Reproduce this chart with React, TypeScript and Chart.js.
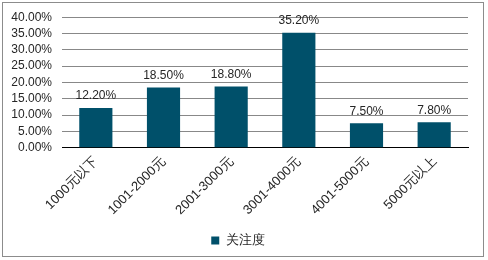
import React, { useEffect, useRef } from "react";
import { Chart, registerables } from "chart.js";

Chart.register(...registerables);

const categories = ["1000元以下", "1001-2000元", "2001-3000元", "3001-4000元", "4001-5000元", "5000元以上"];
const seriesName = "关注度";
const values = [12.2, 18.5, 18.8, 35.2, 7.5, 7.8];
const yMin = 0;
const yMax = 40;
const yStep = 5;

const FONT = "'Liberation Sans', Arial, sans-serif";

const borderPlugin = {
  id: "outerBorder",
  beforeDraw(chart: any) {
    const ctx = chart.ctx;
    ctx.save();
    ctx.fillStyle = "#ffffff";
    ctx.fillRect(0, 0, chart.width, chart.height);
    ctx.strokeStyle = "#8c8c8c";
    ctx.lineWidth = 1;
    ctx.strokeRect(2.5, 2.5, 481, 254);
    ctx.restore();
  },
};

const labelPlugin = {
  id: "barLabels",
  afterDatasetsDraw(chart: any) {
    const ctx = chart.ctx;
    const meta = chart.getDatasetMeta(0);
    ctx.save();
    ctx.font = `12px ${FONT}`;
    ctx.fillStyle = "#262626";
    ctx.textAlign = "center";
    ctx.textBaseline = "bottom";
    meta.data.forEach((bar: any, i: number) => {
      ctx.fillText(values[i].toFixed(2) + "%", bar.x, bar.y - 6);
    });
    ctx.restore();
  },
};

export default function App() {
  const ref = useRef<HTMLCanvasElement>(null);
  useEffect(() => {
    document.body.style.margin = "0";
    const chart = new Chart(ref.current!, {
      type: "bar",
      data: {
        labels: categories,
        datasets: [
          {
            label: seriesName,
            data: values,
            backgroundColor: "#00506a",
            categoryPercentage: 1,
            barPercentage: 0.49,
          },
        ],
      },
      options: {
        animation: false,
        responsive: false,
        layout: { padding: { left: 8, right: 20, top: 10, bottom: 3 } },
        plugins: {
          legend: {
            position: "bottom",
            labels: {
              boxWidth: 8,
              boxHeight: 8,
              font: { family: FONT, size: 13 },
              color: "#262626",
              padding: 10,
            },
          },
          tooltip: { enabled: false },
        },
        scales: {
          x: {
            grid: { display: false, drawTicks: false },
            border: { color: "#000000", width: 1 },
            ticks: {
              minRotation: 45,
              maxRotation: 45,
              autoSkip: false,
              color: "#262626",
              font: { family: FONT, size: 13 },
              padding: 6,
            },
          },
          y: {
            min: yMin,
            max: yMax,
            afterFit(axis: any) {
              axis.width = 54;
            },
            grid: { color: "#888888", drawTicks: false },
            border: { display: false },
            ticks: {
              stepSize: yStep,
              autoSkip: false,
              color: "#262626",
              font: { family: FONT, size: 12 },
              padding: 10,
              callback: (v: any) => Number(v).toFixed(2) + "%",
            },
          },
        },
      },
      plugins: [borderPlugin, labelPlugin],
    });
    return () => chart.destroy();
  }, []);
  return <canvas ref={ref} width={488} height={260} style={{ display: "block" }} />;
}
